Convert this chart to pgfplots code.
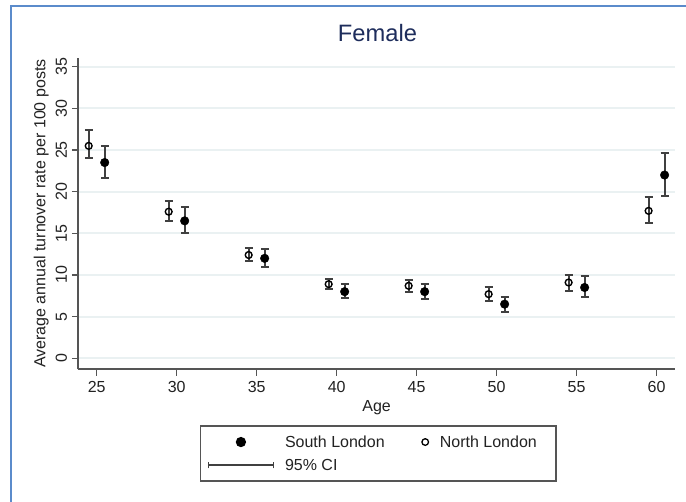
\documentclass[border=0pt]{standalone}
\usepackage{pgfplots}
\usepackage{pgfplotstable}
\pgfplotsset{compat=1.18}
\usepackage{fontspec}
\setmainfont{Liberation Sans}
\definecolor{frameblue}{HTML}{5B8BCB}
\definecolor{titlenavy}{HTML}{1E2D5C}
\definecolor{axgray}{HTML}{555555}
\definecolor{gridc}{HTML}{EAF1F2}
\definecolor{ebc}{HTML}{404040}
\definecolor{txt}{HTML}{222222}

\pgfplotstableread{
x y lo hi
25.5 23.5 21.7 25.5
30.5 16.5 15.0 18.2
35.5 12.0 10.9 13.1
40.5 8.0 7.2 8.9
45.5 8.0 7.1 8.9
50.5 6.5 5.6 7.4
55.5 8.5 7.4 9.9
60.5 22.0 19.5 24.7
}\southtab

\pgfplotstableread{
x y lo hi
24.5 25.5 24.1 27.4
29.5 17.6 16.5 18.9
34.5 12.4 11.7 13.3
39.5 8.9 8.3 9.5
44.5 8.7 7.9 9.4
49.5 7.7 6.9 8.6
54.5 9.1 8.1 10.0
59.5 17.7 16.2 19.4
}\northtab

\begin{document}
\begin{tikzpicture}
\useasboundingbox (0,0) rectangle (686pt,502pt);
\fill[white] (0,0) rectangle (686pt,502pt);
\draw[frameblue, line width=2pt] (11pt,0) -- (11pt,495.5pt) -- (686pt,495.5pt);
\begin{axis}[
  at={(78.3pt,132.7pt)}, anchor=south west,
  scale only axis, width=596.7pt, height=311.3pt,
  xmin=23.85, xmax=61.15, ymin=-1.32, ymax=36.05,
  axis x line*=bottom, axis y line*=left,
  axis line style={axgray, line width=1.8pt},
  xtick={25,30,...,60}, ytick={0,5,...,35},
  tick align=outside, major tick length=6.5pt,
  tick style={axgray, line width=1.5pt},
  ymajorgrids, grid style={gridc, line width=1.8pt},
  /pgf/number format/assume math mode=true,
  ticklabel style={font=\fontsize{16}{19}\selectfont, text=txt},
  yticklabel style={rotate=90, anchor=south, inner sep=4.5pt},
  xticklabel style={anchor=north, inner sep=5pt},
  xlabel={Age}, ylabel={Average annual turnover rate per 100 posts},
  label style={font=\fontsize{16}{19}\selectfont, text=txt},
  xlabel style={at={(axis description cs:0.5,-0.1243)}, anchor=center},
  ylabel style={at={(axis description cs:-0.062,0.5)}, anchor=center},
  title={Female},
  title style={at={(axis description cs:0.5014,1.061)}, anchor=center, font=\fontsize{23.7}{28}\selectfont, text=titlenavy},
  legend cell align=left,
  legend columns=2,
  legend style={at={(axis description cs:0.2035,-0.1789)}, anchor=north west,
    draw=axgray, line width=1.6pt, inner xsep=7pt, inner ysep=10.5pt,
    font=\fontsize{16}{19}\selectfont, text=txt,
    column sep=10.7pt, row sep=11.5pt,
    /tikz/every even column/.append style={column sep=36.6pt},
    nodes={anchor=base west, inner sep=0pt, text height=11.5pt, text depth=0pt}},
]
\addplot[legend image code/.code={\fill[black] (0pt,5.75pt) circle (4.3pt);},
  only marks, mark=*, mark size=4.3pt, black, mark options={fill=black, draw=black},
  error bars/.cd, y dir=both, y explicit,
  error bar style={draw=ebc, line width=2pt},
  error mark options={rotate=90, draw=ebc, mark size=3.9pt, line width=2pt}]
  table[x=x, y=y, y error plus expr=\thisrow{hi}-\thisrow{y}, y error minus expr=\thisrow{y}-\thisrow{lo}] {\southtab};
\addlegendentry{South London}
\addplot[legend image code/.code={\draw[black, line width=1.3pt] (0pt,5.75pt) circle (3.3pt);},
  only marks, mark=o, mark size=3.4pt, black, mark options={draw=black, line width=1.4pt},
  error bars/.cd, y dir=both, y explicit,
  error bar style={draw=ebc, line width=2pt},
  error mark options={rotate=90, draw=ebc, mark size=3.9pt, line width=2pt}]
  table[x=x, y=y, y error plus expr=\thisrow{hi}-\thisrow{y}, y error minus expr=\thisrow{y}-\thisrow{lo}] {\northtab};
\addlegendentry{North London\hspace*{12.4pt}}
\addlegendimage{legend image code/.code={
  \draw[ebc, line width=1.8pt] (-32.5pt,5.75pt) -- (32.5pt,5.75pt);
  \draw[ebc, line width=1.4pt] (-32.5pt,2.5pt) -- (-32.5pt,9pt);
  \draw[ebc, line width=1.4pt] (32.5pt,2.5pt) -- (32.5pt,9pt);}}
\addlegendentry{95\% CI}
\end{axis}
\end{tikzpicture}
\end{document}
